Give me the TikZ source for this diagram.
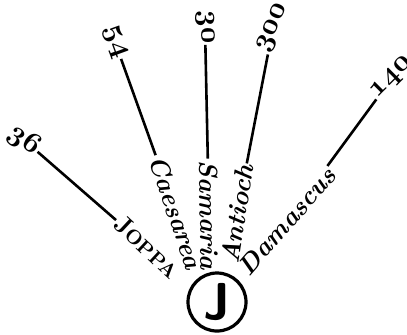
\documentclass[tikz,border=0pt]{standalone}
\usepackage{tikz}

\begin{document}
\begin{tikzpicture}[
    x=0.5pt, y=-0.5pt,
    hub/.style={circle, draw, line width=1.6pt, minimum size=29pt, inner sep=0pt, font=\fontsize{26}{26}\selectfont\sffamily\bfseries},
    city/.style={inner sep=0.5pt, font=\fontsize{13}{13}\selectfont\bfseries\itshape},
    dist/.style={inner sep=0.5pt, font=\fontsize{15}{15}\selectfont\boldmath},
    ray/.style={line width=1.3pt}
]
\useasboundingbox (0,0) rectangle (407,334);

% Nodes
\node (jer) [hub] at (217,302) {J};

\node (joppa) [city, font=\fontsize{13}{13}\selectfont\bfseries, rotate=-43] at (147,247) {J{\fontsize{10}{10}\selectfont OPPA}};
\node (caesarea) [city, rotate=-71] at (176,212) {Caesarea};
\node (samaria) [city, rotate=-89] at (209,215) {Samaria};
\node (antioch) [city, rotate=81] at (237,214) {Antioch};
\node (damascus) [city, rotate=49] at (287,221) {Damascus};

\node (d36) [dist, rotate=-36] at (24,140) {$\mathnormal{36}$};
\node (d54) [dist, rotate=-70] at (115,42) {$\mathnormal{54}$};
\node (d30) [dist, rotate=-88] at (205,27) {$\mathnormal{30}$};
\node (d300) [dist, rotate=66] at (273,28) {$\mathnormal{300}$};
\node (d140) [dist, rotate=45] at (392,78) {$\mathnormal{140}$};

% Lines
\draw [ray] (joppa) -- (d36);
\draw [ray] (caesarea) -- (d54);
\draw [ray] (samaria) -- (d30);
\draw [ray] (antioch) -- (d300);
\draw [ray] (damascus) -- (d140);

\end{tikzpicture}
\end{document}
